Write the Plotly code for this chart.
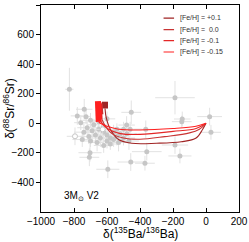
import plotly.graph_objects as go

# ---- observational grains (grey) ----
obs_x = [-828, -738, -780, -727, -759, -453, -188, -144, 22, 30, -147, -365, -359, -158,
         -370, -456, -188, -481, -707, -595, -467, -703,
         -700, -680, -720, -690, -650, -620, -600, -580, -560, -540, -520, -600, -640,
         -670, -710, -740, -620, -560, -530, -500, -580, -620, -660, -700, -750, -540,
         -500, -480, -460, -650, -600]
obs_y = [230, 95, 50, 45, 4, 74, 173, 29, 45, -61, 11, -41, -192, -221,
         -270, -262, -147, -12, -230, -311, -120, -199,
         20, -10, -30, -50, -40, -60, -80, -100, -110, -90, -70, -120, -100,
         -80, -90, -60, -20, -60, -130, -100, -140, -150, -130, -120, -110, -40,
         -40, -70, -40, 10, 30]
obs_xerr = [25, 50, 40, 30, 40, 60, 120, 50, 75, 60, 60, 70, 90, 70,
            60, 80, 80, 50, 60, 70, 60, 70,
            50, 40, 60, 50, 40, 50, 60, 40, 50, 60, 40, 50, 60,
            40, 50, 60, 40, 50, 60, 70, 50, 60, 40, 50, 60, 40,
            50, 60, 70, 40, 50]
obs_yerr = [145, 70, 60, 50, 50, 80, 113, 50, 60, 50, 40, 60, 60, 50,
            50, 60, 60, 60, 60, 60, 60, 60,
            50, 40, 50, 60, 40, 50, 60, 40, 50, 60, 40, 50, 60,
            40, 50, 60, 40, 50, 60, 50, 40, 50, 60, 40, 50, 40,
            50, 40, 50, 40, 50]
open_x = [-794, -626]
open_y = [-88, -41]
open_xerr = [50, 40]
open_yerr = [60, 50]

# ---- model tracks ----
labels = ["[Fe/H] = +0.1", "[Fe/H] =  0.0", "[Fe/H] = -0.1", "[Fe/H] = -0.15"]
colors = ["#a02424", "#c83434", "#e42626", "#ff2020"]
thin_x = [
    [0, -20, -60, -150, -300, -450, -530, -580, -605, -612],
    [0, -40, -100, -250, -400, -500, -570, -620, -640],
    [0, -60, -200, -400, -520, -590, -630, -645],
    [0, -60, -200, -400, -530, -600, -640, -650],
]
thin_y = [
    [0, -40, -100, -125, -135, -135, -110, -40, 40, 100],
    [0, -40, -65, -90, -108, -100, -70, 0, 60],
    [0, -35, -55, -75, -70, -40, 0, 30],
    [0, -20, -35, -45, -40, -20, 0, 10],
]
thick_x = [[-612, -612], [-640, -645], [-645, -650], [-650, -655]]
thick_y = [[100, 146], [60, 130], [30, 140], [10, 150]]

fig = go.Figure()
fig.add_trace(go.Scatter(
    x=obs_x, y=obs_y, mode="markers",
    marker=dict(size=5, color="#c6c6c6"),
    error_x=dict(type="data", array=obs_xerr, color="#e2e2e2", thickness=1, width=0),
    error_y=dict(type="data", array=obs_yerr, color="#e2e2e2", thickness=1, width=0),
    showlegend=False, hoverinfo="skip"))
fig.add_trace(go.Scatter(
    x=open_x, y=open_y, mode="markers",
    marker=dict(size=5, color="white", line=dict(color="#c6c6c6", width=1)),
    error_x=dict(type="data", array=open_xerr, color="#e2e2e2", thickness=1, width=0),
    error_y=dict(type="data", array=open_yerr, color="#e2e2e2", thickness=1, width=0),
    showlegend=False, hoverinfo="skip"))
for i in range(4):
    fig.add_trace(go.Scatter(x=thin_x[i], y=thin_y[i], mode="lines",
                             line=dict(color=colors[i], width=1.1, shape="spline"),
                             name=labels[i], showlegend=False))
for i in range(4):
    fig.add_trace(go.Scatter(x=thick_x[i], y=thick_y[i], mode="lines",
                             line=dict(color=colors[i], width=6),
                             showlegend=False))

# hand-built compact legend (paper coordinates inside the plot area)
leg_rows = [0.937, 0.881, 0.828, 0.773]
annots = []
for i in range(4):
    annots.append(dict(x=0.672, y=leg_rows[i], xref="paper", yref="paper", text="",
                       showarrow=True, arrowhead=0, ax=-12, ay=0, arrowwidth=1.2,
                       arrowcolor=colors[i], standoff=0, startstandoff=0))
    annots.append(dict(x=0.69, y=leg_rows[i], xref="paper", yref="paper", text=labels[i],
                       showarrow=False, xanchor="left", yanchor="middle",
                       font=dict(size=7, color="#333333")))

fnt = "Liberation Sans, Arial, sans-serif"
annots += [
    dict(x=-870, y=-490, xref="x", yref="y", text="3M<sub>⊙</sub> V2", showarrow=False,
         xanchor="left", font=dict(size=10)),
    dict(x=0.5, y=-0.1, xref="paper", yref="paper", yanchor="middle",
         text="δ(<sup>135</sup>Ba/<sup>136</sup>Ba)", showarrow=False, font=dict(size=12)),
    dict(x=-0.165, y=0.5, xref="paper", yref="paper", xanchor="center",
         text="δ(<sup>88</sup>Sr/<sup>86</sup>Sr)", showarrow=False, textangle=-90,
         font=dict(size=12)),
]
fig.update_layout(
    width=249, height=242,
    margin=dict(l=41, r=10, t=5, b=30, autoexpand=False),
    paper_bgcolor="white", plot_bgcolor="white",
    font=dict(family=fnt, size=10, color="black"),
    showlegend=False,
    xaxis=dict(range=[-1000, 200], tickvals=[-1000, -800, -600, -400, -200, 0, 200],
               ticks="inside", ticklen=4, tickcolor="black", mirror="ticks",
               showline=True, linecolor="black", linewidth=1, showgrid=False, zeroline=False,
               tickfont=dict(size=10), automargin=False),
    yaxis=dict(range=[-600, 800], tickvals=[-400, -200, 0, 200, 400, 600, 800],
               ticks="outside", ticklen=4, tickcolor="black", mirror=True,
               showline=True, linecolor="black", linewidth=1, showgrid=False, zeroline=False,
               tickfont=dict(size=10), automargin=False),
    yaxis2=dict(range=[-600, 800], tickvals=[-400, -200, 0, 200, 400, 600, 800],
                overlaying="y", side="right", ticks="inside", ticklen=4, tickcolor="black",
                showticklabels=False, showgrid=False, zeroline=False, showline=False,
                automargin=False),
    annotations=annots,
)
fig.write_html("out.html",
               config={"displayModeBar": False},
               post_script="document.body.style.margin='0';"
                           "document.body.style.overflow='hidden';")
